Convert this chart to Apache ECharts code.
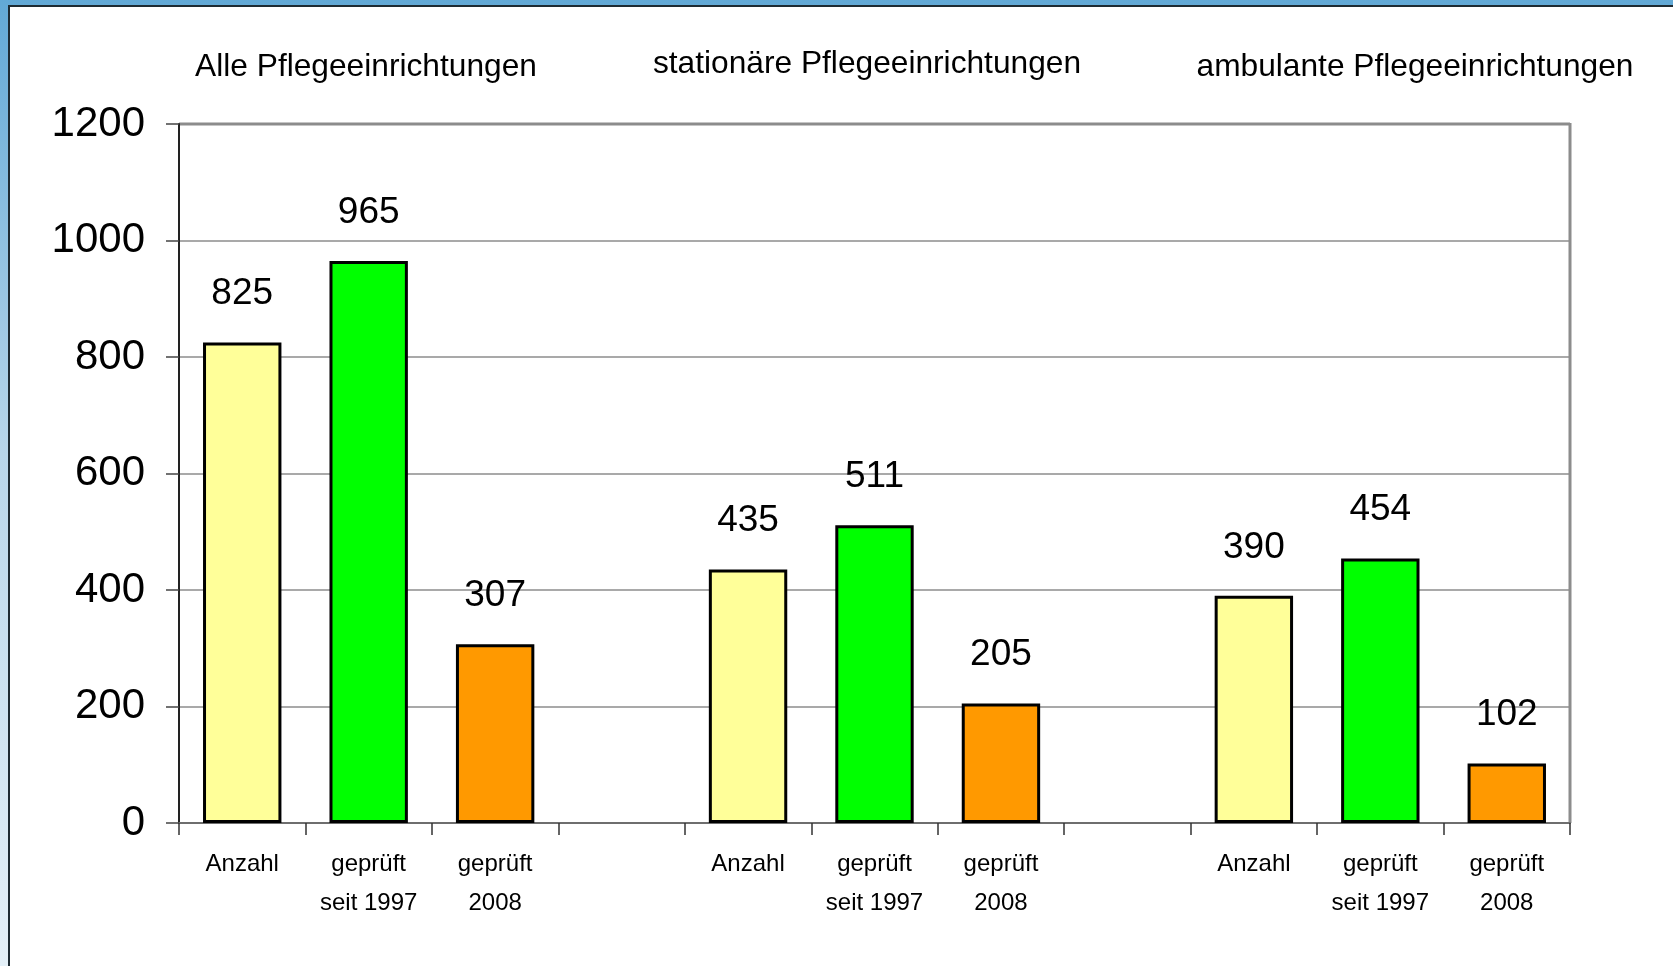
<!DOCTYPE html>
<html>
<head>
<meta charset="utf-8">
<script src="https://cdn.jsdelivr.net/npm/echarts@6/dist/echarts.min.js"></script>
<style>
  html, body { margin: 0; padding: 0; }
  #frame { position: absolute; left: 0; top: 0; width: 1673px; height: 966px;
           background: linear-gradient(to bottom, #62A9D6 0%, #B8D6EA 47%, #E4F0F8 100%); }
  #inner { position: absolute; left: 8px; top: 5px; right: 0; bottom: 0;
           background: #fff; border-left: 2px solid #1E2B33; border-top: 2px solid #1E2B33; }
  #chart { position: absolute; left: 0; top: 0; width: 1673px; height: 966px; }
</style>
</head>
<body>
<div id="frame"><div id="inner"></div></div>
<div id="chart"></div>
<script>
const categories = ['Anzahl', 'geprüft\nseit 1997', 'geprüft\n2008', '',
                    'Anzahl', 'geprüft\nseit 1997', 'geprüft\n2008', '',
                    'Anzahl', 'geprüft\nseit 1997', 'geprüft\n2008'];
const values = [825, 965, 307, null, 435, 511, 205, null, 390, 454, 102];
const barColors = ['#FFFF99', '#00FF00', '#FF9900', null,
                   '#FFFF99', '#00FF00', '#FF9900', null,
                   '#FFFF99', '#00FF00', '#FF9900'];
const groupTitles = ['Alle Pflegeeinrichtungen', 'stationäre Pflegeeinrichtungen', 'ambulante Pflegeeinrichtungen'];
const yTicks = [0, 200, 400, 600, 800, 1000, 1200];

const chart = echarts.init(document.getElementById('chart'), null, { renderer: 'canvas' });
const FONT = '"Liberation Sans", Arial, sans-serif';

const titlePos = [[366, 67], [867, 64], [1415, 67]];

chart.setOption({
  backgroundColor: 'transparent',
  animation: false,
  grid: { left: 179, right: 103, top: 124, bottom: 143, show: true,
          borderColor: '#8C8C8C', borderWidth: 0 },
  graphic: groupTitles.map((t, i) => ({
    type: 'text', x: titlePos[i][0], y: titlePos[i][1],
    style: { text: t, font: '31.7px ' + FONT, fill: '#000', align: 'center', verticalAlign: 'middle' }
  })).concat([
    { type: 'line', shape: { x1: 179, y1: 124, x2: 1570, y2: 124 }, style: { stroke: '#8C8C8C', lineWidth: 3 } },
    { type: 'line', shape: { x1: 1570, y1: 123, x2: 1570, y2: 823 }, style: { stroke: '#8C8C8C', lineWidth: 3 } }
  ]),
  xAxis: {
    type: 'category',
    data: categories,
    axisLine: { lineStyle: { color: '#6E6E6E', width: 2 } },
    axisTick: { show: true, length: 12, lineStyle: { color: '#333', width: 1.5 } },
    axisLabel: {
      interval: 0, margin: 22, color: '#000',
      fontFamily: FONT, fontSize: 24, lineHeight: 39
    }
  },
  yAxis: {
    type: 'value', min: 0, max: 1200, interval: 200,
    axisLine: { show: true, lineStyle: { color: '#222', width: 2 } },
    axisTick: { show: true, length: 13, lineStyle: { color: '#444', width: 1.5 } },
    axisLabel: {
      margin: 34, color: '#000', fontFamily: FONT, fontSize: 42,
      formatter: v => yTicks.includes(v) ? String(v) : ''
    },
    splitLine: { lineStyle: { color: '#8C8C8C', width: 1.5 } }
  },
  series: [{
    type: 'bar',
    barWidth: '62%',
    data: values.map((v, i) => v === null ? null : ({
      value: v,
      itemStyle: { color: barColors[i], borderColor: '#000', borderWidth: 3 }
    })),
    label: {
      show: true, position: 'top', distance: 30, color: '#000',
      fontFamily: FONT, fontSize: 37
    }
  }]
});
</script>
</body>
</html>
